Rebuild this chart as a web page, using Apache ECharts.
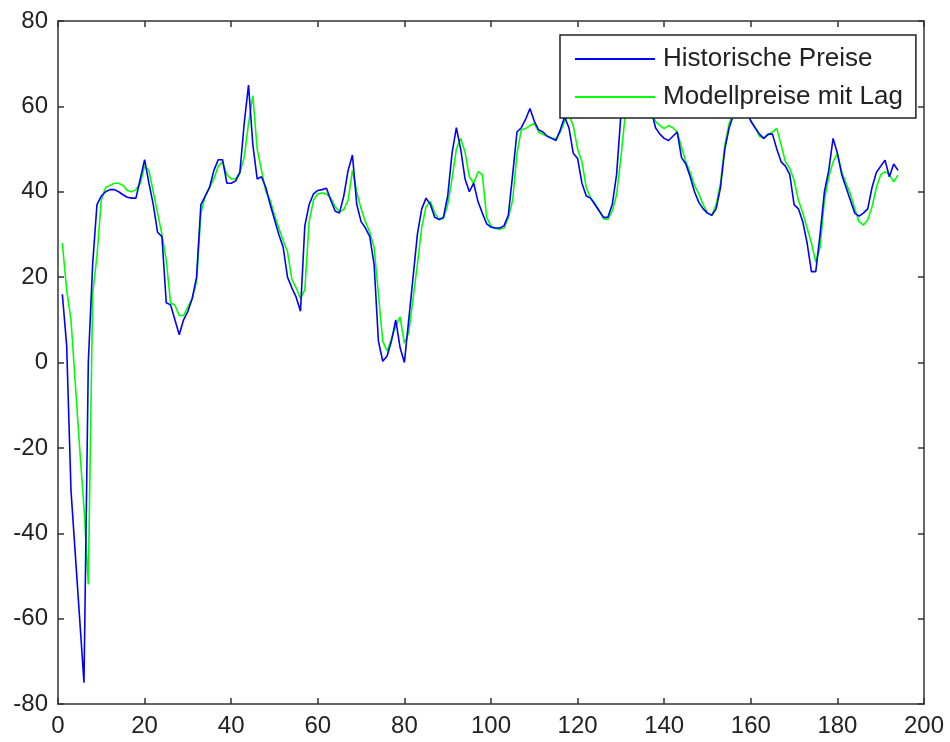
<!DOCTYPE html>
<html>
<head>
<meta charset="utf-8">
<script src="https://cdn.jsdelivr.net/npm/echarts@6/dist/echarts.min.js"></script>
<style>
html, body { margin: 0; padding: 0; background: #fff; }
#chart { width: 950px; height: 742px; }
</style>
</head>
<body>
<div id="chart"></div>
<script>
const seriesNames = ['Historische Preise', 'Modellpreise mit Lag'];
const xTicks = [0, 20, 40, 60, 80, 100, 120, 140, 160, 180, 200];
const yTicks = [-80, -60, -40, -20, 0, 20, 40, 60, 80];

// Historische Preise, t = 1..194
const historisch = [
  16, 4, -30, -45, -60, -75, 0, 23, 37, 39,
  40, 40.5, 40.5, 40, 39.3, 38.7, 38.5, 38.5, 43, 47.5,
  42, 37, 30.5, 29.5, 14, 13.5, 10, 6.5, 10, 12,
  15, 20, 37, 39, 41, 45, 47.5, 47.5, 42, 42,
  42.5, 44.5, 56, 65, 51, 43, 43.5, 41, 37, 33.5,
  30, 27, 20, 17.5, 15.3, 12, 32, 37, 39.5, 40.3,
  40.5, 40.8, 38, 35.5, 35, 39, 45, 48.6, 37, 33,
  31.5, 29.5, 23, 5, 0.3, 1.5, 5, 10, 3.5, 0,
  10, 20, 30, 36, 38.5, 37, 34, 33.5, 34, 39,
  49, 55, 50, 43, 40, 42, 37.7, 35, 32.5, 31.7,
  31.5, 31.5, 32, 34.5, 44, 54, 55, 57, 59.5, 56.5,
  54.5, 54, 53, 52.5, 52, 54.5, 57.5, 55, 49, 47.8,
  42, 39, 38.5, 37, 35.5, 34, 34, 37, 44, 58,
  65, 68, 68, 66, 64, 62, 59, 55, 53.5, 52.5,
  52, 53, 54, 48, 46.5, 43.5, 40, 37.5, 36, 35,
  34.5, 36, 41, 50, 55, 58, 60, 61, 59, 56.5,
  55, 53.5, 52.5, 53.5, 53.5, 50, 47, 46, 44, 37,
  36, 33, 28, 21.3, 21.3, 30, 40, 45, 52.5, 49,
  44, 41, 38, 35, 34.3, 35, 36, 41, 44.5, 46,
  47.4, 43.5, 46.5, 45
];

// Modellpreise mit Lag, t = 1..194
const modell = [
  28, 17, 10, -5, -20, -34, -52, 16, 25, 38,
  41, 41.5, 42, 42, 41.5, 40.3, 40, 40.5, 42, 46,
  45, 40, 35, 30, 24, 14, 13.4, 11, 11, 13,
  15, 19, 35, 39, 41, 43, 46, 47, 44, 43,
  43, 44.5, 48, 56, 62.5, 50, 45, 40, 38, 34.5,
  31.5, 28.5, 26, 19.5, 17.5, 15, 17, 33, 38, 39.5,
  39.7, 39.5, 38.5, 36.5, 35.4, 35.8, 38, 45, 40, 36,
  33, 30.5, 27, 16, 5, 2.7, 5.5, 8.5, 10.7, 4.5,
  7, 15, 23, 31.6, 36.5, 37.7, 35, 33.5, 33.7, 37,
  43, 50, 52.5, 49.3, 43.5, 42, 44.7, 44, 34, 32,
  31.4, 31.2, 31.5, 33.9, 38, 49, 54.5, 54.8, 55.5, 56,
  54, 53.4, 53, 52.6, 52.4, 54, 56.5, 58, 55.5, 50,
  47, 41, 38.5, 37.3, 35.5, 33.7, 33.5, 35.5, 39.3, 48,
  58, 64, 67, 67, 65, 62, 59, 56.5, 55.5, 54.8,
  55.5, 55, 54, 50.5, 47, 44.5, 41.5, 39.5, 37, 35,
  34.5, 37, 42, 51, 56, 59, 61, 61, 59.5, 56.8,
  55, 53, 52.5, 53.3, 54, 54.8, 51, 47, 45.5, 42.7,
  38, 35, 31.5, 28, 23.5, 27, 38, 43.5, 47, 49,
  44.7, 42, 39.5, 36, 33, 32.2, 33.4, 36.5, 41, 44,
  44.7, 44, 42.3, 43.9
];

const chartDom = document.getElementById('chart');
const myChart = echarts.init(chartDom);

const fontFam = 'Liberation Sans, Arial, sans-serif';
const axisColor = '#333';

const xBase = {
  type: 'value',
  min: xTicks[0],
  max: xTicks[xTicks.length - 1],
  interval: 20,
  splitLine: { show: false },
  axisLine: { show: true, onZero: false, lineStyle: { color: axisColor, width: 1.5 } },
  axisTick: { show: true, inside: true, length: 6, lineStyle: { color: axisColor, width: 1.5 } }
};
const yBase = {
  type: 'value',
  min: yTicks[0],
  max: yTicks[yTicks.length - 1],
  interval: 20,
  splitLine: { show: false },
  axisLine: { show: true, onZero: false, lineStyle: { color: axisColor, width: 1.5 } },
  axisTick: { show: true, inside: true, length: 6, lineStyle: { color: axisColor, width: 1.5 } }
};

const option = {
  animation: false,
  backgroundColor: '#fff',
  grid: { left: 58, right: 26, top: 21, bottom: 38 },
  legend: {
    data: seriesNames,
    orient: 'vertical',
    left: 560,
    top: 35,
    padding: [9, 13, 6, 15],
    itemGap: 8,
    itemWidth: 80,
    itemHeight: 2,
    icon: 'rect',
    backgroundColor: '#fff',
    borderColor: '#222',
    borderWidth: 1.5,
    borderRadius: 0,
    textStyle: {
      fontFamily: fontFam,
      fontSize: 26,
      color: '#222',
      lineHeight: 30,
      padding: [0, 0, 0, 3]
    }
  },
  xAxis: [
    Object.assign({}, xBase, {
      position: 'bottom',
      axisLabel: { show: true, fontFamily: fontFam, fontSize: 24, color: '#222', margin: 10 }
    }),
    Object.assign({}, xBase, { position: 'top', axisLabel: { show: false } })
  ],
  yAxis: [
    Object.assign({}, yBase, {
      position: 'left',
      axisLabel: { show: true, fontFamily: fontFam, fontSize: 24, color: '#222', margin: 10 }
    }),
    Object.assign({}, yBase, { position: 'right', axisLabel: { show: false } })
  ],
  series: [
    {
      name: seriesNames[0],
      type: 'line',
      xAxisIndex: 0,
      yAxisIndex: 0,
      showSymbol: false,
      color: '#0000ff',
      lineStyle: { color: '#0000ff', width: 1.6 },
      data: historisch.map((v, i) => [i + 1, v]),
      z: 3
    },
    {
      name: seriesNames[1],
      type: 'line',
      xAxisIndex: 0,
      yAxisIndex: 0,
      showSymbol: false,
      color: '#00ff00',
      lineStyle: { color: '#00ff00', width: 1.6 },
      data: modell.map((v, i) => [i + 1, v]),
      z: 2
    }
  ]
};

myChart.setOption(option);
window.addEventListener('resize', function () {
  myChart.resize();
});
</script>
</body>
</html>
